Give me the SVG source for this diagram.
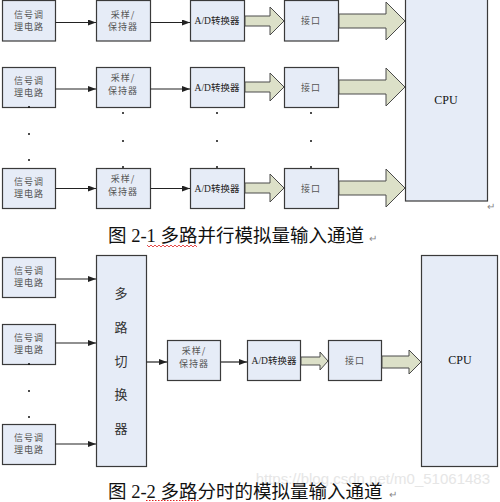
<svg xmlns="http://www.w3.org/2000/svg" width="500" height="502" viewBox="0 0 500 502">
<defs>
<marker id="ah" viewBox="0 0 8 6" refX="8" refY="3" markerWidth="8" markerHeight="6" markerUnits="userSpaceOnUse" orient="auto">
<path d="M0,0 L8,3 L0,6 Z" fill="#222"/>
</marker>
<style>
.box{fill:#E6ECF7;stroke:#3a3a3a;stroke-width:1.2}
.t{font-family:"Noto Sans CJK SC","Liberation Sans",sans-serif;font-size:9px;fill:#555;text-anchor:middle;letter-spacing:1px}
.ad{font-family:"Liberation Serif","Noto Sans CJK SC",serif;font-size:9.5px;fill:#222;text-anchor:middle}
.cpu{font-family:"Liberation Serif",serif;font-size:12px;fill:#111;text-anchor:middle}
.mux{font-family:"Noto Sans CJK SC",sans-serif;font-size:13px;fill:#333;text-anchor:middle}
.cap{font-family:"Liberation Serif","Noto Sans CJK SC",serif;font-size:18.5px;fill:#111}
.ln{stroke:#222;stroke-width:1.2;fill:none;marker-end:url(#ah)}
.blk{fill:#DCE0C8;stroke:#4a4a4a;stroke-width:1}
.dot{fill:#111}
.ret{font-family:"Liberation Sans",sans-serif;font-size:10px;fill:#888}
</style>
</defs>

<!-- Diagram 1 -->
<g id="sig1"><rect class="box" x="2.5" y="0.5" width="53" height="40.5"/><text class="t" x="29" y="18">信号调</text><text class="t" x="29" y="30">理电路</text></g>
<g id="sig2"><rect class="box" x="2.5" y="67.5" width="53" height="40"/><text class="t" x="29" y="84">信号调</text><text class="t" x="29" y="96">理电路</text></g>
<g id="sig3"><rect class="box" x="2.5" y="168.5" width="53" height="40"/><text class="t" x="29" y="185">信号调</text><text class="t" x="29" y="197">理电路</text></g>

<g id="sh1"><rect class="box" x="96.5" y="0.5" width="54" height="40.5"/><text class="t" x="123" y="18">采样/</text><text class="t" x="123" y="30">保持器</text></g>
<g id="sh2"><rect class="box" x="96.5" y="67.5" width="54" height="40"/><text class="t" x="123" y="81">采样/</text><text class="t" x="123" y="94">保持器</text></g>
<g id="sh3"><rect class="box" x="96.5" y="168.5" width="54" height="40"/><text class="t" x="123" y="182">采样/</text><text class="t" x="123" y="195">保持器</text></g>

<g id="ad1"><rect class="box" x="190.5" y="0.5" width="54" height="40.5"/><text class="ad" x="217" y="24">A/D转换器</text></g>
<g id="ad2"><rect class="box" x="190.5" y="67.5" width="54" height="40"/><text class="ad" x="217" y="91">A/D转换器</text></g>
<g id="ad3"><rect class="box" x="190.5" y="168.5" width="54" height="40"/><text class="ad" x="217" y="192">A/D转换器</text></g>

<g id="if1"><rect class="box" x="284.5" y="0.5" width="54" height="40.5"/><text class="t" x="311" y="24">接口</text></g>
<g id="if2"><rect class="box" x="284.5" y="67.5" width="54" height="40"/><text class="t" x="311" y="91">接口</text></g>
<g id="if3"><rect class="box" x="284.5" y="168.5" width="54" height="40"/><text class="t" x="311" y="192">接口</text></g>

<g id="cpu1"><rect class="box" x="405.5" y="-1" width="82" height="202"/><text class="cpu" x="446" y="104">CPU</text></g>

<g id="dots1">
<circle class="dot" cx="29" cy="107" r="1"/><circle class="dot" cx="29" cy="134" r="1"/><circle class="dot" cx="29" cy="160" r="1"/>
<circle class="dot" cx="123" cy="113" r="1"/><circle class="dot" cx="123" cy="141" r="1"/><circle class="dot" cx="123" cy="167" r="1"/>
<circle class="dot" cx="217" cy="113" r="1"/><circle class="dot" cx="217" cy="141" r="1"/><circle class="dot" cx="217" cy="167" r="1"/>
<circle class="dot" cx="311" cy="113" r="1"/><circle class="dot" cx="311" cy="141" r="1"/><circle class="dot" cx="311" cy="167" r="1"/>
</g>

<g id="connectors1">
<line class="ln" x1="55.5" y1="22.5" x2="96" y2="22.5"/>
<line class="ln" x1="150.5" y1="22.5" x2="190" y2="22.5"/>
<line class="ln" x1="55.5" y1="89" x2="96" y2="89"/>
<line class="ln" x1="150.5" y1="89" x2="190" y2="89"/>
<line class="ln" x1="55.5" y1="188.5" x2="96" y2="188.5"/>
<line class="ln" x1="150.5" y1="188.5" x2="190" y2="188.5"/>
<polygon class="blk" points="245,16 270,16 270,7 284,21 270,35 270,26 245,26"/>
<polygon class="blk" points="245,82 270,82 270,73 284,87 270,101 270,92 245,92"/>
<polygon class="blk" points="245,183 270,183 270,174 284,188 270,202 270,193 245,193"/>
<polygon class="blk" points="339,14 386,14 386,2 405,21 386,40 386,28 339,28"/>
<polygon class="blk" points="339,80 386,80 386,68 405,87 386,106 386,94 339,94"/>
<polygon class="blk" points="339,181 386,181 386,169 405,188 386,207 386,195 339,195"/>
</g>

<text class="ret" x="487" y="210">↵</text>
<g id="caption1">
<text class="cap" x="108" y="242">图 2-1 多路并行模拟量输入通道</text>
<text class="ret" x="369" y="242">↵</text>
<path d="M147,245 l2,2 l2,-2 l2,2 l2,-2 l2,2 l2,-2 l2,2 l2,-2 l2,2 l2,-2 l2,2 l2,-2 l2,2 l2,-2 l2,2 l2,-2 l2,2 l2,-2 l2,2 l2,-2 l2,2 l2,-2 l2,2 l2,-2 l2,2" fill="none" stroke="#e02020" stroke-width="0.8"/>
</g>

<!-- Diagram 2 -->
<g id="s2sig1"><rect class="box" x="2.5" y="257.5" width="53" height="40"/><text class="t" x="29" y="274">信号调</text><text class="t" x="29" y="286">理电路</text></g>
<g id="s2sig2"><rect class="box" x="2.5" y="324.5" width="53" height="40"/><text class="t" x="29" y="341">信号调</text><text class="t" x="29" y="353">理电路</text></g>
<g id="s2sig3"><rect class="box" x="2.5" y="424.5" width="53" height="40"/><text class="t" x="29" y="441">信号调</text><text class="t" x="29" y="453">理电路</text></g>

<g id="dots2"><circle class="dot" cx="29" cy="364" r="1"/><circle class="dot" cx="29" cy="391" r="1"/><circle class="dot" cx="29" cy="417" r="1"/></g>

<g id="mux"><rect class="box" x="96.5" y="255.5" width="50" height="211"/>
<text class="mux" x="121" y="298">多</text><text class="mux" x="121" y="332">路</text><text class="mux" x="121" y="366">切</text><text class="mux" x="121" y="399">换</text><text class="mux" x="121" y="433">器</text></g>

<g id="s2sh"><rect class="box" x="167.5" y="340.5" width="53" height="40"/><text class="t" x="194" y="354">采样/</text><text class="t" x="194" y="367">保持器</text></g>
<g id="s2ad"><rect class="box" x="247.5" y="340.5" width="53" height="40"/><text class="ad" x="274" y="364">A/D转换器</text></g>
<g id="s2if"><rect class="box" x="328.5" y="340.5" width="53" height="40"/><text class="t" x="355" y="364">接口</text></g>
<g id="cpu2"><rect class="box" x="421.5" y="255.5" width="76" height="211"/><text class="cpu" x="460" y="364">CPU</text></g>

<g id="connectors2">
<line class="ln" x1="55.5" y1="279" x2="96" y2="279"/>
<line class="ln" x1="55.5" y1="343" x2="96" y2="343"/>
<line class="ln" x1="55.5" y1="444" x2="96" y2="444"/>
<line class="ln" x1="146.5" y1="362" x2="167" y2="362"/>
<line class="ln" x1="221" y1="362" x2="247" y2="362"/>
<polygon class="blk" points="301,357 320,357 320,352 328,361 320,370 320,365 301,365"/>
<polygon class="blk" points="382,356 409,356 409,350 421,362 409,374 409,368 382,368"/>
</g>

<text x="490" y="484" font-family="Liberation Sans,sans-serif" font-size="15" fill="#e6e6e6" text-anchor="end">https://blog.csdn.net/m0_51061483</text>
<g id="caption2">
<text class="cap" x="108" y="498">图 2-2 多路分时的模拟量输入通道</text>
<text class="ret" x="389" y="498">↵</text>
<line x1="146" y1="500.5" x2="200" y2="500.5" stroke="#e02020" stroke-width="1" stroke-dasharray="1.5,1.5"/>
</g>
</svg>
